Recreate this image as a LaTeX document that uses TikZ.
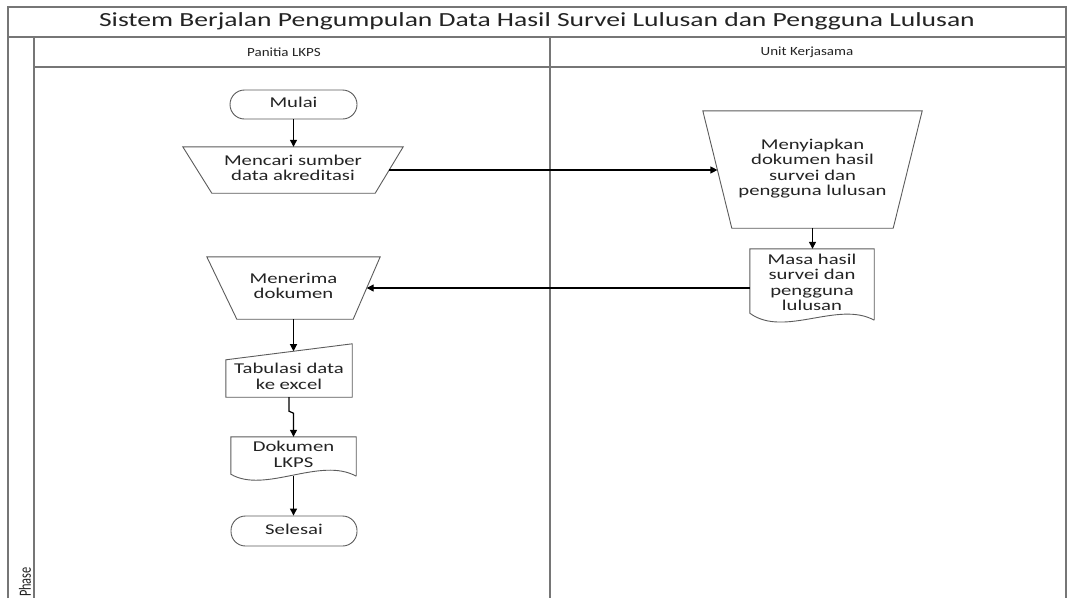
\documentclass[tikz,border=0pt]{standalone}
\usepackage{fontspec}
\usepackage{graphicx}
\setmainfont{Carlito}
\usetikzlibrary{arrows.meta,calc}

\definecolor{framegray}{RGB}{118,118,118}
\definecolor{outlinegray}{RGB}{92,92,92}
\definecolor{ink}{RGB}{35,35,35}

% wide Visio-style lettering
\newcommand{\widetxt}[1]{\scalebox{1.38}[1]{\begin{tabular}{@{}c@{}}#1\end{tabular}}}
\newcommand{\lanetxt}[1]{\scalebox{1.2}[1]{#1}}

\tikzset{
  frm/.style={draw=framegray, line width=1.1pt},
  shp/.style={draw=outlinegray, line width=0.9pt},
  txt/.style={inner sep=0pt, text=ink, font=\fontsize{15}{15.5}\selectfont},
  term/.style={txt, draw=outlinegray, line width=0.9pt, rounded corners=14.5pt},
  flow/.style={draw=black, line width=1.2pt, -{Triangle[length=7pt,width=7pt]}},
}

\begin{document}
\begin{tikzpicture}[x=1pt,y=-1pt]
\useasboundingbox (0,0) rectangle (1068,598);
\fill[white] (0,0) rectangle (1068,598);

% swimlane frame
\draw[frm] (8,598) -- (8,7) -- (1066,7) -- (1066,598);
\draw[frm] (8,37) -- (1066,37);
\draw[frm] (34,37) -- (34,598);
\draw[frm] (34,67) -- (1066,67);
\draw[frm] (550,37) -- (550,598);

\node[txt, font=\fontsize{20}{22}\selectfont] (title) at (537,22)
  {\widetxt{Sistem Berjalan Pengumpulan Data Hasil Survei Lulusan dan Pengguna Lulusan}};
\node[txt, font=\fontsize{12.5}{14}\selectfont] (lane1) at (284,52) {\lanetxt{Panitia LKPS}};
\node[txt, font=\fontsize{12.5}{14}\selectfont] (lane2) at (807,52) {\lanetxt{Unit Kerjasama}};
\node[txt, font=\fontsize{12.4}{14}\selectfont, rotate=90] (phase) at (25,582)
  {\scalebox{1}[1.38]{Phase}};

% Panitia LKPS lane
\node[term, minimum width=127pt, minimum height=29pt] (mulai) at (293.5,104.5) {\widetxt{Mulai}};

\node[txt, minimum width=220pt, minimum height=46pt] (mencari) at (293,170)
  {\widetxt{Mencari sumber\\data akreditasi}};
\draw[shp] (mencari.north west) -- (mencari.north east)
  -- ($(mencari.south east)+(-28,0)$) -- ($(mencari.south west)+(29,0)$) -- cycle;

\node[txt, minimum width=173pt, minimum height=62pt] (menerima) at (293.5,288)
  {\widetxt{Menerima\\dokumen}};
\draw[shp] (menerima.north west) -- (menerima.north east)
  -- ($(menerima.south east)+(-27,0)$) -- ($(menerima.south west)+(30,0)$) -- cycle;

\node[txt, minimum width=126pt, minimum height=37pt] (tab) at (289,378.5)
  {\widetxt{Tabulasi data\\ke excel}};
\draw[shp] (tab.south west) -- (tab.north west) -- ($(tab.north east)+(0,-16)$)
  -- (tab.south east) -- cycle;

\node[txt, minimum width=125pt, minimum height=39pt] (dok) at (293.5,456.5)
  {\widetxt{Dokumen\\LKPS}};
\draw[shp] (dok.south east) -- (dok.north east) -- (dok.north west)
  -- ($(dok.south west)+(0,-2)$)
  .. controls ($(dok.south west)+(34,18)$) and ($(dok.south east)+(-36,-20)$) .. (dok.south east);

\node[term, minimum width=126pt, minimum height=30pt] (selesai) at (294,531) {\widetxt{Selesai}};

% Unit Kerjasama lane
\node[txt, minimum width=219pt, minimum height=117pt] (siap) at (812.5,169.5)
  {\widetxt{Menyiapkan\\dokumen hasil\\survei dan\\pengguna lulusan}};
\draw[shp] (siap.north west) -- (siap.north east)
  -- ($(siap.south east)+(-29,0)$) -- ($(siap.south west)+(29,0)$) -- cycle;

\node[txt, minimum width=124pt, minimum height=71pt] (masa) at (812,284.5)
  {\widetxt{Masa hasil\\survei dan\\pengguna\\lulusan}};
\draw[shp] (masa.south east) -- (masa.north east) -- (masa.north west)
  -- ($(masa.south west)+(0,-7)$)
  .. controls ($(masa.south west)+(34,18)$) and ($(masa.south east)+(-36,-20)$) .. (masa.south east);

% flow connectors
\draw[flow] (mulai.south) -- (mulai.south |- mencari.north);
\draw[flow] ($(mencari.east)+(-14,0)$) -- ($(siap.west |- mencari.east)+(14.6,0)$);
\draw[flow] (siap.south) -- (siap.south |- masa.north);
\draw[flow] (masa.west |- menerima.east) -- ($(menerima.east)+(-13.5,0)$);
\draw[flow] (menerima.south) -- ($(tab.north)+(4.5,-8.6)$);
\draw[flow] (tab.south) -- ++(0,14) -- ($(tab.south)+(4.5,16)$) -- (dok.north);
\draw[flow] (dok.south) -- (dok.south |- selesai.north);
\end{tikzpicture}
\end{document}
